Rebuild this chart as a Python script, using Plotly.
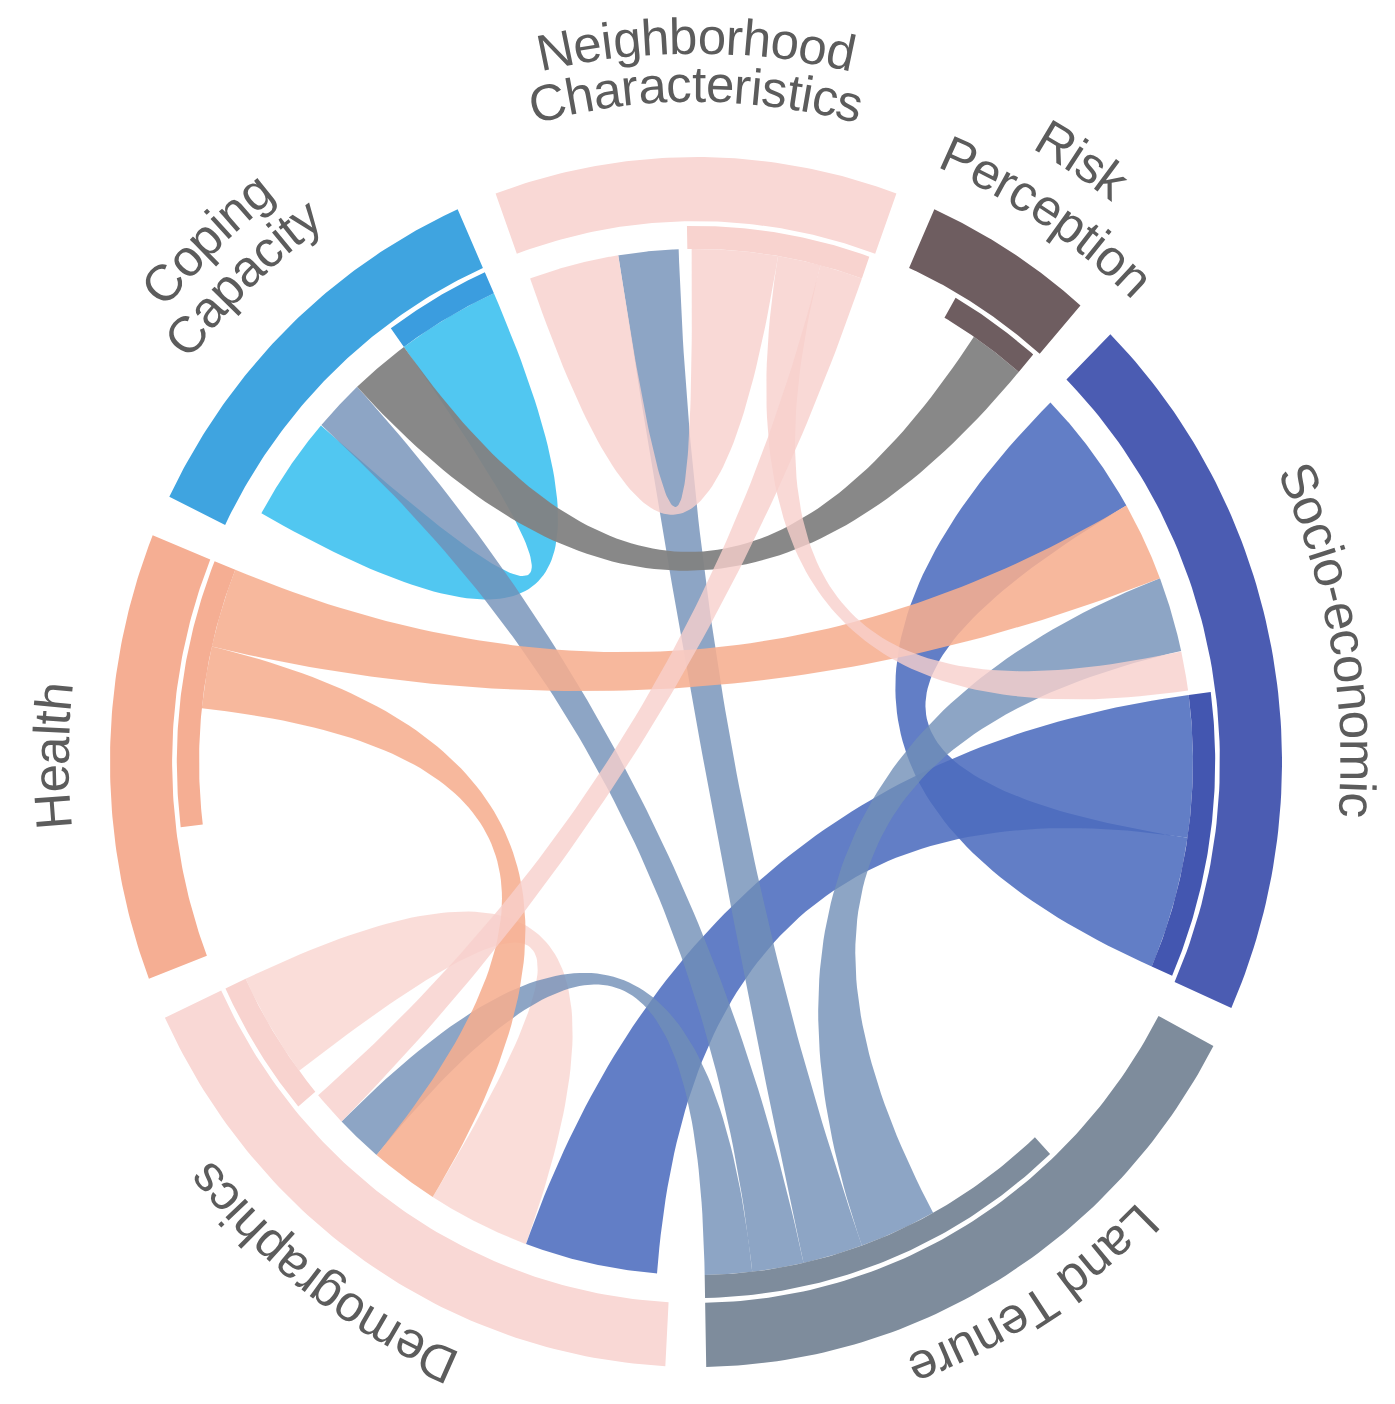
import numpy as np
import plotly.graph_objects as go

# ---------------- data ----------------
sector_names = ["Neighborhood Characteristics", "Risk Perception", "Socio-economic",
                "Land Tenure", "Demographics", "Health", "Coping Capacity"]
label_lines = [["Neighborhood", "Characteristics"], ["Risk", "Perception"], ["Socio-economic"],
               ["Land Tenure"], ["Demographics"], ["Health"], ["Coping", "Capacity"]]
sector_size = [40, 17, 69, 61, 62, 43, 40]
outgoing_total = [20.5, 10.5, 31, 42, 15, 29, 12]
unallocated_before = [0.5, 6, 0.5, 19, 1.5, 14, 3]
unallocated_after = [0.5, 0.5, 0.5, 0, 0, 0, 0]

# links: 0 NC-NC, 1 NC-SE, 2 NC-DEM, 3 RP-CC, 4 SE-SE, 5 SE-DEM, 6 LT-SE, 7 LT-NC,
#        8 LT-CC, 9 LT-DEM, 10 H-DEM, 11 H-SE, 12 DEM-DEM, 13 CC-CC
link_source = [0, 0, 0, 1, 2, 2, 3, 3, 3, 3, 5, 5, 4, 6]
link_target = [0, 2, 4, 6, 2, 4, 2, 0, 6, 4, 4, 2, 4, 6]
link_value_out = [10, 5, 5, 6.5, 15, 16, 9, 7, 6, 5.5, 7, 9, 12, 12]
link_value_in = [10.5, 4.5, 4, 7, 14.5, 15.5, 8.5, 7, 6, 5.5, 8, 9, 12, 12]
incoming_order = [[0, 7], [], [4, 11, 6, 1], [], [5, 12, 10, 9, 2], [], [13, 8, 3]]
outgoing_order = [[0, 1, 2], [3], [5, 4], [6, 7, 8, 9], [12], [10, 11], [13]]
draw_order = [12, 4, 5, 13, 6, 7, 8, 9, 3, 10, 11, 0, 1, 2]

# ---------------- style ----------------
ring_color = ["#f9d8d5", "#6e5d60", "#4b5cb2", "#7e8c9c", "#f9d8d5", "#f5ae93", "#3fa4e0"]
strip_color = ["#f8d3cf", "#6e5d60", "#4356b0", "#7e8c9c", "#f8d3cf", "#f5ae93", "#3b9ddf"]
link_color = ["rgba(248,208,204,0.80)", "rgba(130,130,130,0.95)", "rgba(76,108,190,0.88)",
              "rgba(112,142,182,0.80)", "rgba(249,212,208,0.80)", "rgba(246,174,144,0.88)",
              "rgba(72,196,240,0.95)"]
label_radius = [1.12, 1.095, 1.13, 1.075, 1.085, 1.10, 1.12]
label_step = [0.08, 0.10, 0.0, 0.0, 0.0, 0.0, 0.085]
label_turn = [0.0, 1.0, 0.0, -1.5, 3.0, 0.0, 0.0]
START = -20.0
R_OUT, R_IN = 1.0, 0.894
S_OUT, S_IN = 0.886, 0.848
W, H = 1395, 1404
CX, CY, RX, RY = 696.0, 762.0, 586.0, 605.0
FONT = 51
CHAR_W = {' ': 278, '-': 333, 'a': 556, 'b': 556, 'c': 500, 'd': 556, 'e': 556, 'g': 556,
          'h': 556, 'i': 222, 'k': 500, 'l': 222, 'm': 833, 'n': 556, 'o': 556, 'p': 556,
          'r': 333, 's': 500, 't': 278, 'u': 556, 'y': 500, 'C': 722, 'D': 722, 'H': 722,
          'L': 556, 'N': 722, 'P': 667, 'R': 722, 'S': 667, 'T': 611}

# ---------------- layout of sectors ----------------
n = len(sector_size)
gap = (360.0 - sum(sector_size)) / n
sec_start, sec_end = [], []
a = START
for s in sector_size:
    sec_start.append(a)
    sec_end.append(a + s)
    a += s + gap

L = len(link_source)
src_span = [None] * L
tgt_span = [None] * L
strip_span = []
for i in range(n):
    pos = sec_start[i] + unallocated_before[i]
    for k in incoming_order[i]:
        tgt_span[k] = (pos, pos + link_value_in[k])
        pos += link_value_in[k]
    s_end = sec_end[i] - unallocated_after[i]
    strip_span.append((s_end - outgoing_total[i], s_end))
    outs = outgoing_order[i]
    pos = s_end - sum(link_value_out[k] for k in outs)
    for k in outs:
        src_span[k] = (pos, pos + link_value_out[k])
        pos += link_value_out[k]


def pt(theta, r):
    t = np.radians(theta)
    return r * np.sin(t), r * np.cos(t)


def arc(t0, t1, r, m=80):
    th = np.radians(np.linspace(t0, t1, m))
    return list(r * np.sin(th)), list(r * np.cos(th))


def bez(p0, p2, m=80):
    t = np.linspace(0, 1, m)
    x = (1 - t) ** 2 * p0[0] + t ** 2 * p2[0]
    y = (1 - t) ** 2 * p0[1] + t ** 2 * p2[1]
    return list(x), list(y)


def band(t0, t1, r0, r1):
    x1, y1 = arc(t0, t1, r1)
    x2, y2 = arc(t1, t0, r0)
    return x1 + x2, y1 + y2


def ribbon(s, t, r):
    xs, ys = [], []
    ax, ay = arc(s[0], s[1], r); xs += ax; ys += ay
    bx, by = bez(pt(s[1], r), pt(t[0], r)); xs += bx; ys += by
    ax, ay = arc(t[0], t[1], r); xs += ax; ys += ay
    bx, by = bez(pt(t[1], r), pt(s[0], r)); xs += bx; ys += by
    return xs, ys


fig = go.Figure()


def add_poly(x, y, color):
    fig.add_trace(go.Scatter(x=x, y=y, mode="lines", fill="toself", fillcolor=color,
                             line=dict(width=0, color="rgba(0,0,0,0)"), hoverinfo="skip",
                             showlegend=False))


for k in draw_order:
    x, y = ribbon(src_span[k], tgt_span[k], S_IN)
    add_poly(x, y, link_color[link_source[k]])

for i in range(n):
    x, y = band(sec_start[i], sec_end[i], R_IN, R_OUT)
    add_poly(x, y, ring_color[i])
    x, y = band(strip_span[i][0], strip_span[i][1], S_IN, S_OUT)
    add_poly(x, y, strip_color[i])

# ---------------- curved labels ----------------
annotations = []


def place_label(lines, theta_mid, r_inner, step):
    nl = len(lines)
    for li, line in enumerate(lines):
        r = r_inner + step * (nl - 1 - li)
        widths = [CHAR_W.get(c, 556) * FONT / 1000.0 for c in line]
        t = np.radians(theta_mid)
        rpx = r * np.sqrt((RX * np.cos(t)) ** 2 + (RY * np.sin(t)) ** 2)
        total = np.degrees(sum(widths) / rpx)
        cur = theta_mid - total / 2
        for c, w in zip(line, widths):
            dw = np.degrees(w / rpx)
            center = cur + dw / 2
            cur += dw
            if c == " ":
                continue
            x, y = pt(center, r)
            ang = ((center + 180) % 360) - 180
            annotations.append(dict(x=x, y=y, xref="x", yref="y", text=c, showarrow=False,
                                    textangle=ang, xanchor="center", yanchor="middle",
                                    font=dict(family="Liberation Sans, Arial, sans-serif",
                                              size=FONT, color="#5c5c5c")))


for i in range(n):
    mid = (sec_start[i] + sec_end[i]) / 2 + label_turn[i]
    place_label(label_lines[i], mid, label_radius[i], label_step[i])

fig.update_layout(
    width=W, height=H, autosize=False,
    margin=dict(l=0, r=0, t=0, b=0),
    paper_bgcolor="white", plot_bgcolor="white",
    showlegend=False,
    xaxis=dict(range=[-CX / RX, (W - CX) / RX], visible=False, fixedrange=True),
    yaxis=dict(range=[-(H - CY) / RY, CY / RY], visible=False, fixedrange=True),
    annotations=annotations,
)

fig.write_html("out.html", config={"displayModeBar": False},
               post_script="document.body.style.margin='0';")
